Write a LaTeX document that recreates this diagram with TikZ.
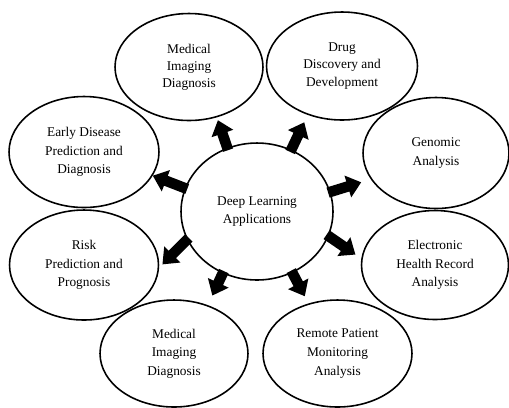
\documentclass[tikz,border=0pt]{standalone}
\usepackage{fontspec}
\setmainfont{Liberation Serif}
\usetikzlibrary{shapes.geometric,arrows.meta}
\begin{document}
\begin{tikzpicture}[x=0.02cm,y=-0.02cm,
  bubble/.style={ellipse,draw=black,line width=0.9pt,inner sep=0pt,align=center,
    font=\fontsize{7.6}{10.6}\selectfont},
  blockarrow/.style={draw=black,line width=6pt,shorten <=-1.5pt,
    -{Triangle[length=8pt,width=12.5pt]}},
]
\useasboundingbox (0,0) rectangle (509,407);
\fill[white] (0,0) rectangle (509,407);

\node[bubble,minimum width=3.04cm,minimum height=2.74cm] (c) at (257,211.5) {Deep Learning\\Applications};

\node[bubble,minimum width=2.96cm,minimum height=2.14cm,font=\fontsize{7.6}{9.6}\selectfont] (e1) at (189,67) {Medical\\Imaging\\Diagnosis};
\node[bubble,minimum width=3.02cm,minimum height=2.16cm,font=\fontsize{7.6}{9.8}\selectfont] (e2) at (342,66) {Drug\\Discovery and\\Development};
\node[bubble,minimum width=2.92cm,minimum height=2.22cm] (e3) at (436,153) {Genomic\\Analysis};
\node[bubble,minimum width=3.00cm,minimum height=2.22cm] (e4) at (84,152) {Early Disease\\Prediction and\\Diagnosis};
\node[bubble,minimum width=2.98cm,minimum height=2.20cm] (e5) at (84,265) {Risk\\Prediction and\\Prognosis};
\node[bubble,minimum width=2.94cm,minimum height=2.18cm] (e6) at (435,265) {Electronic\\Health Record\\Analysis};
\node[bubble,minimum width=2.96cm,minimum height=2.14cm] (e7) at (174,353.5) {Medical\\Imaging\\Diagnosis};
\node[bubble,minimum width=2.98cm,minimum height=2.14cm] (e8) at (337.5,353.5) {Remote Patient\\Monitoring\\Analysis};

\draw[blockarrow,shorten >=1.7pt] (c.115) -- (e1.299);
\draw[blockarrow,shorten >=4.6pt] (c.61) -- (e2.235);
\draw[blockarrow,shorten >=0pt] (c.162) -- (e4.341);
\draw[blockarrow,shorten >=5.7pt] (c.15) -- (e3.202);
\draw[blockarrow,shorten >=2.6pt] (c.202) -- (e5.358);
\draw[blockarrow,shorten >=4pt] (c.341) -- (e6.175);
\draw[blockarrow,shorten >=6pt] (c.241) -- (e7.55);
\draw[blockarrow,shorten >=4.6pt] (c.300) -- (e8.120);
\end{tikzpicture}
\end{document}
